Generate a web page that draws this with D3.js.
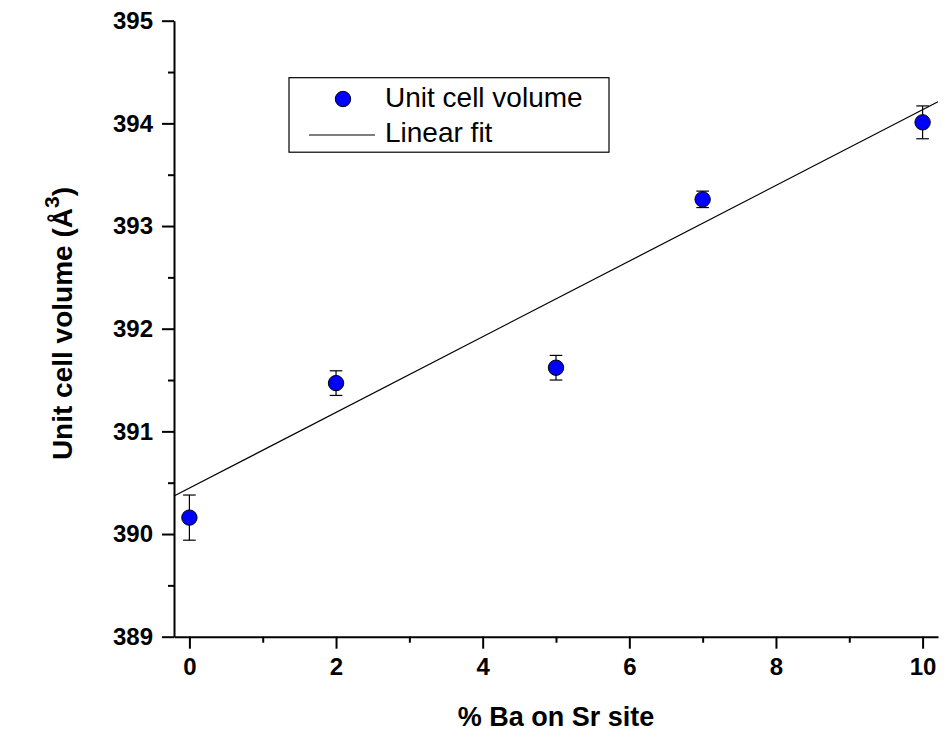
<!DOCTYPE html>
<html>
<head>
<meta charset="utf-8">
<script src="https://cdn.jsdelivr.net/npm/d3@7"></script>
<style>
  body { margin: 0; background: #fff; }
  text { font-family: Arial, "Liberation Sans", sans-serif; fill: #000; }
</style>
</head>
<body>
<svg id="chart"></svg>
<script>
// data
const baPercent = [0, 2, 5, 7, 10];
const cellVolume = [390.16, 391.47, 391.62, 393.26, 394.01];
const volumeError = [0.22, 0.12, 0.12, 0.08, 0.16];
const fitX = [-0.21, 10.21];
const fitY = [390.37, 394.21];
const xTicks = [0, 2, 4, 6, 8, 10];
const xMinorTicks = [1, 3, 5, 7, 9];
const yTicks = [389, 390, 391, 392, 393, 394, 395];
const yMinorTicks = [389.5, 390.5, 391.5, 392.5, 393.5, 394.5];
const legendLabels = ["Unit cell volume", "Linear fit"];

const width = 950, height = 731;
const margin = { top: 20.7, right: 12, bottom: 94.3, left: 174 };

const svg = d3.select("#chart")
    .attr("width", width)
    .attr("height", height);

// scales
const xScale = d3.scaleLinear()
    .domain([-0.21, 10.21])
    .range([margin.left, width - margin.right]);

const yScale = d3.scaleLinear()
    .domain([389, 395])
    .range([height - margin.bottom, margin.top]);

// axes (minor ticks first, then major with labels)
const xAxisY = yScale(389);
svg.append("g")
    .attr("transform", `translate(0,${xAxisY})`)
    .call(d3.axisBottom(xScale).tickValues(xMinorTicks).tickSize(6).tickSizeOuter(0).tickFormat(""))
    .call(g => g.select(".domain").remove());

svg.append("g")
    .attr("transform", `translate(0,${xAxisY})`)
    .call(d3.axisBottom(xScale).tickValues(xTicks).tickSize(12).tickSizeOuter(0).tickPadding(9));

const yAxisX = xScale(-0.21);
svg.append("g")
    .attr("transform", `translate(${yAxisX},0)`)
    .call(d3.axisLeft(yScale).tickValues(yMinorTicks).tickSize(6).tickSizeOuter(0).tickFormat(""))
    .call(g => g.select(".domain").remove());

svg.append("g")
    .attr("transform", `translate(${yAxisX},0)`)
    .call(d3.axisLeft(yScale).tickValues(yTicks).tickSize(12).tickSizeOuter(0).tickPadding(9).tickFormat(d3.format("d")));

svg.selectAll(".tick line, .domain")
    .attr("stroke", "#000")
    .attr("stroke-width", 2);

svg.selectAll(".tick text")
    .attr("font-size", 24)
    .attr("font-weight", "bold")
    .attr("font-family", "Arial, 'Liberation Sans', sans-serif");

// axis titles
svg.append("text")
    .attr("x", xScale(5))
    .attr("y", 726)
    .attr("text-anchor", "middle")
    .attr("font-size", 27)
    .attr("font-weight", "bold")
    .text("% Ba on Sr site");

const yTitle = svg.append("text")
    .attr("transform", `translate(72,${yScale(392.05)}) rotate(-90)`)
    .attr("text-anchor", "middle")
    .attr("font-size", 28)
    .attr("font-weight", "bold");
yTitle.append("tspan").text("Unit cell volume (Å");
yTitle.append("tspan").attr("dy", -13).attr("font-size", 21).text("3");
yTitle.append("tspan").attr("dy", 13).text(")");

// linear fit
const line = d3.line()
    .x(d => xScale(d[0]))
    .y(d => yScale(d[1]));

svg.append("path")
    .datum(d3.zip(fitX, fitY))
    .attr("fill", "none")
    .attr("stroke", "#000")
    .attr("stroke-width", 1.2)
    .attr("d", line);

// error bars
const points = baPercent.map((x, i) => ({ x: x, y: cellVolume[i], e: volumeError[i] }));
const cap = 6.3;

const err = svg.append("g")
    .attr("stroke", "#000")
    .attr("stroke-width", 1.2);

points.forEach(d => {
    const cx = xScale(d.x);
    err.append("line").attr("x1", cx).attr("x2", cx).attr("y1", yScale(d.y - d.e)).attr("y2", yScale(d.y + d.e));
    err.append("line").attr("x1", cx - cap).attr("x2", cx + cap).attr("y1", yScale(d.y - d.e)).attr("y2", yScale(d.y - d.e));
    err.append("line").attr("x1", cx - cap).attr("x2", cx + cap).attr("y1", yScale(d.y + d.e)).attr("y2", yScale(d.y + d.e));
});

// points
svg.selectAll(".dot")
    .data(points)
    .enter().append("circle")
    .attr("class", "dot")
    .attr("cx", d => xScale(d.x))
    .attr("cy", d => yScale(d.y))
    .attr("r", 7.7)
    .attr("fill", "#0000ff")
    .attr("stroke", "#000")
    .attr("stroke-width", 1);

// legend
const legend = svg.append("g");
legend.append("rect")
    .attr("x", 289).attr("y", 77.7)
    .attr("width", 320).attr("height", 74.5)
    .attr("fill", "none")
    .attr("stroke", "#000")
    .attr("stroke-width", 1.2);

legend.append("circle")
    .attr("cx", 343).attr("cy", 99)
    .attr("r", 7.7)
    .attr("fill", "#0000ff")
    .attr("stroke", "#000");

legend.append("line")
    .attr("x1", 309).attr("x2", 375)
    .attr("y1", 135).attr("y2", 135)
    .attr("stroke", "#555")
    .attr("stroke-width", 1.5);

legend.selectAll(".label")
    .data(legendLabels)
    .enter().append("text")
    .attr("class", "label")
    .attr("x", 385)
    .attr("y", (d, i) => 106.5 + i * 35.5)
    .attr("font-size", 28)
    .text(d => d);
</script>
</body>
</html>
